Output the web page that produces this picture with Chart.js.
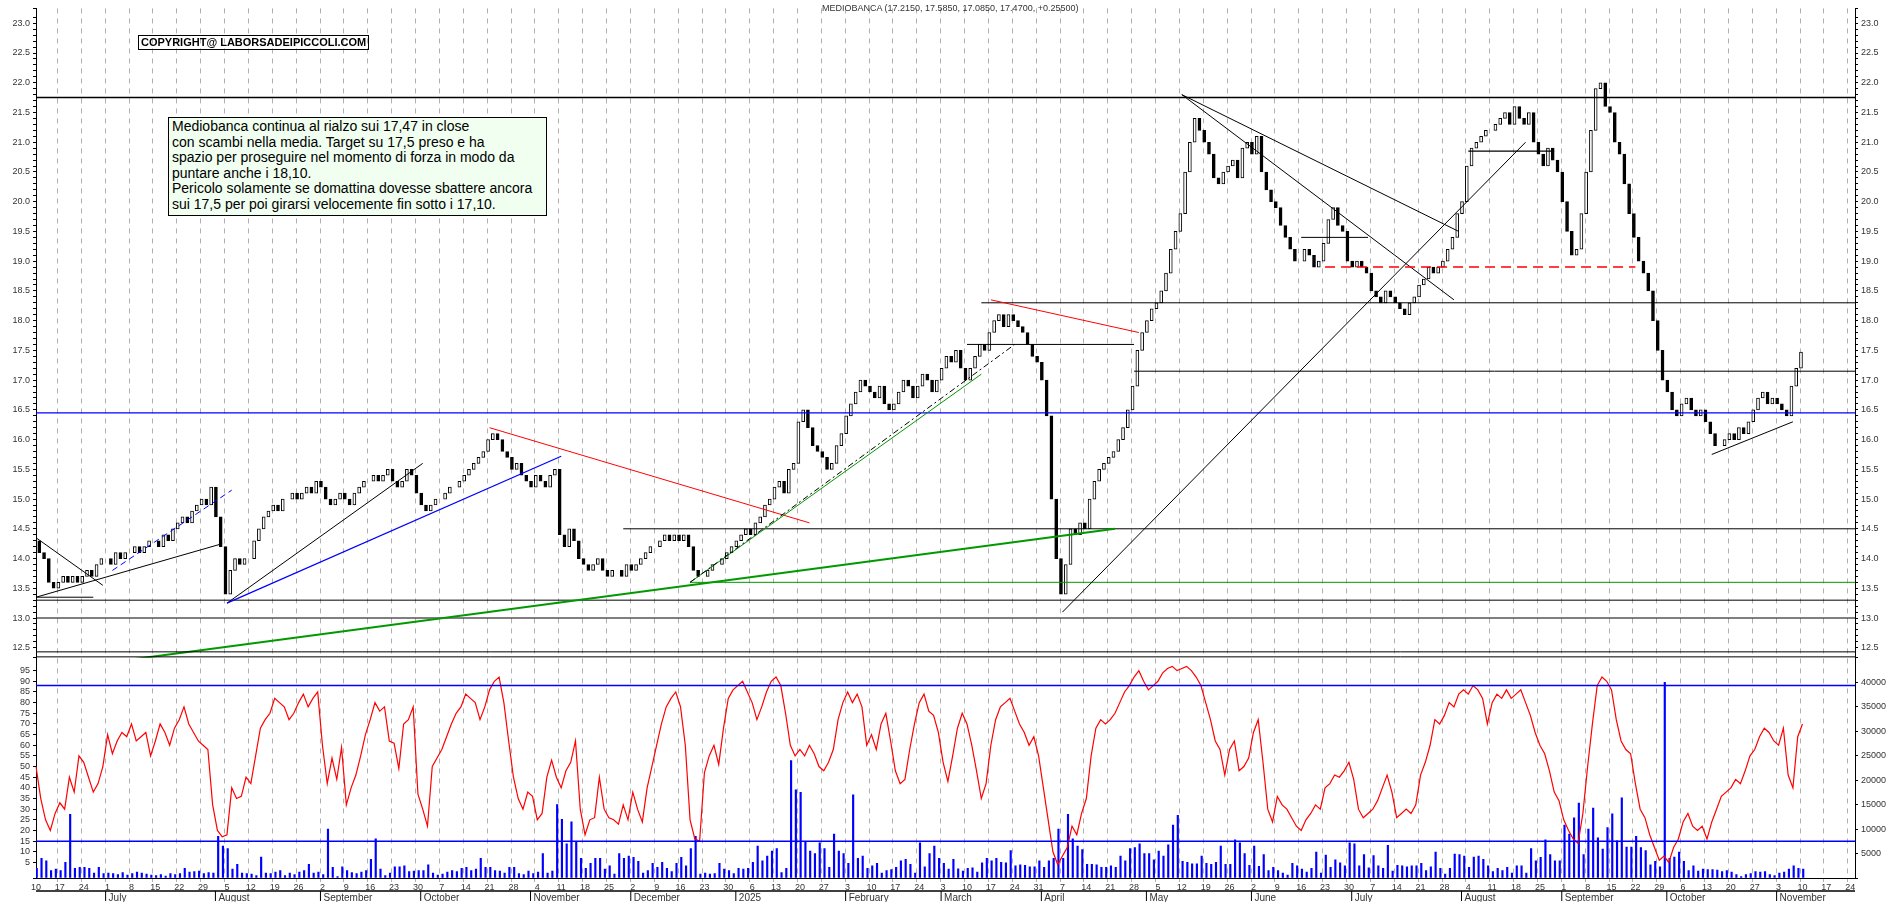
<!DOCTYPE html>
<html>
<head>
<meta charset="utf-8">
<script src="https://cdn.jsdelivr.net/npm/chart.js@4.4.1/dist/chart.umd.min.js"></script>
<style>
body { margin:0; background:#fff; overflow:hidden; }
#wrap { position:relative; width:1890px; height:902px; }
.txt { position:absolute; font-family:"Liberation Sans Narrow","Liberation Sans",Arial,sans-serif; color:#000; }
#title { left:822px; top:3px; font-size:9px; color:#333; }
#copy { left:138px; top:35px; font-size:11px; font-weight:bold; border:1.5px solid #000; padding:0 2px; line-height:13px; }
#note { left:168px; top:117px; width:370px; font-size:14px; line-height:15.5px; background:#f0fff0; border:1px solid #000; padding:1px 4px 3px 3px; }
</style>
</head>
<body>
<div id="wrap">
<canvas id="mycanvas" width="1890" height="902"></canvas>
<div class="txt" id="title">MEDIOBANCA (17.2150, 17.5850, 17.0850, 17.4700, +0.25500)</div>
<div class="txt" id="copy">COPYRIGHT@ LABORSADEIPICCOLI.COM</div>
<div class="txt" id="note">Mediobanca continua al rialzo sui 17,47 in close<br>con scambi nella media. Target su 17,5 preso e ha<br>spazio per proseguire nel momento di forza in modo da<br>puntare anche i 18,10.<br>Pericolo solamente se domattina dovesse sbattere ancora<br>sui 17,5 per poi girarsi velocemente fin sotto i 17,10.</div>
</div>
<script>
// daily closes, one line per week, from 10 Jun 2024
var closes = [
14.3,14.1,14.0,13.6,13.5, 13.6,13.7,13.6,13.7,13.6, 13.7,13.8,13.7,13.9,14.0,
14.0,13.9,14.1,14.0,14.1, 14.1,14.2,14.1,14.2,14.3, 14.3,14.2,14.4,14.3,14.5,
14.6,14.7,14.6,14.8,14.9, 15.0,14.9,15.2,14.7,14.2, 13.4,13.8,14.0,13.9,14.0,
14.0,14.3,14.5,14.7,14.8, 14.9,14.8,15.0,15.0,15.1, 15.0,15.1,15.2,15.1,15.3,
15.2,15.0,14.9,15.0,15.1, 15.0,14.9,15.1,15.2,15.3, 15.3,15.4,15.3,15.4,15.5,
15.3,15.2,15.3,15.5,15.4, 15.1,14.9,14.8,14.9,15.0, 15.0,15.1,15.2,15.2,15.3,
15.4,15.5,15.6,15.7,15.8, 16.0,16.1,16.0,15.8,15.7, 15.5,15.6,15.4,15.3,15.2,
15.4,15.3,15.2,15.4,15.5, 14.4,14.2,14.5,14.3,14.0, 13.9,13.8,13.9,14.0,13.8,
13.7,13.8,13.8,13.7,13.9, 13.8,13.9,14.0,14.1,14.2, 14.2,14.3,14.4,14.3,14.4,
14.3,14.4,14.2,13.8,13.7, 13.7,13.8,13.9,13.9,14.0, 14.1,14.2,14.3,14.4,14.5,
14.4,14.6,14.7,14.9,15.0, 15.2,15.3,15.1,15.5,15.6, 16.3,16.5,16.2,15.9,15.8,
15.7,15.5,15.6,15.9,16.1, 16.4,16.6,16.8,17.0,16.9, 16.8,16.7,16.9,16.6,16.5,
16.6,16.8,17.0,16.9,16.7, 16.9,17.1,17.0,16.8,17.0, 17.2,17.4,17.3,17.5,17.2,
17.0,17.2,17.4,17.6,17.5, 17.8,18.0,18.1,17.9,18.1, 18.0,17.9,17.8,17.6,17.4,
17.3,17.0,16.4,15.0,14.0, 13.4,13.9,14.5,14.4,14.6, 14.5,15.0,15.3,15.5,15.6,
15.7,15.8,16.0,16.2,16.5, 16.9,17.5,17.8,18.0,18.2, 18.3,18.5,18.8,19.2,19.5,
19.8,20.5,21.0,21.4,21.2, 21.0,20.8,20.4,20.3,20.5, 20.6,20.7,20.4,20.9,21.0,
20.8,21.1,20.5,20.2,20.0, 19.9,19.6,19.4,19.2,19.0, 19.0,19.2,19.1,18.9,19.0,
19.3,19.7,19.9,19.6,19.5, 19.0,18.9,19.0,18.9,18.8, 18.5,18.4,18.3,18.5,18.4,
18.3,18.2,18.1,18.3,18.4, 18.6,18.7,18.9,18.8,18.9, 19.0,19.2,19.4,19.8,20.0,
20.6,20.9,21.0,21.1,21.2, 21.2,21.3,21.4,21.5,21.3, 21.6,21.4,21.3,21.5,21.0,
20.8,20.6,20.9,20.7,20.5, 20.0,19.5,19.1,19.2,19.8, 20.5,21.2,21.9,22.0,21.6,
21.5,21.0,20.8,20.3,19.8, 19.4,19.0,18.8,18.5,18.0, 17.5,17.0,16.8,16.5,16.4,
16.6,16.7,16.5,16.4,16.5, 16.3,16.1,15.9,15.9,16.0, 16.1,16.0,16.2,16.1,16.3,
16.5,16.7,16.8,16.6,16.7, 16.6,16.5,16.4,16.9,17.2, 17.47
];
var firstOpen = 14.4;

var oscillator = [
50,35,25,20,28, 33,30,45,38,55, 52,45,38,42,50,
65,56,62,66,64, 70,62,64,66,55, 62,70,66,60,68,
72,78,70,66,62, 60,58,32,20,17, 18,40,35,36,45,
42,55,68,72,75, 82,80,78,72,75, 80,84,78,82,85,
60,42,54,44,59, 32,40,46,55,65, 72,80,76,78,62,
61,49,70,72,78, 37,30,22,50,54, 58,64,70,75,78,
84,82,80,72,78, 86,90,92,80,62, 45,35,30,38,36,
25,28,45,53,45, 40,48,52,62,30, 18,25,26,45,30,
26,25,23,32,25, 38,30,24,40,50, 60,70,78,82,85,
78,60,25,16,15, 47,55,60,51,68, 82,86,88,90,85,
80,72,78,85,90, 92,88,75,60,55, 58,55,60,56,50,
48,52,58,72,80, 85,80,84,78,60, 65,58,70,75,62,
48,42,44,58,70, 80,84,76,74,66, 52,43,55,68,75,
70,60,48,35,42, 60,72,78,80,82, 76,70,66,60,64,
55,40,25,10,4, 8,12,22,18,28, 35,55,68,72,70,
72,75,80,85,88, 92,95,90,86,88, 90,94,96,97,95,
96,97,95,92,88, 80,72,62,58,46, 58,62,48,50,54,
66,72,52,30,24, 36,32,30,26,22, 20,25,28,32,30,
40,42,46,45,48, 52,44,30,26,28, 30,34,40,46,38,
26,28,30,28,32, 46,52,60,72,70, 74,80,78,84,86,
84,88,86,82,70, 80,84,82,86,82, 84,86,80,74,66,
60,56,48,38,34, 25,20,16,14,28, 50,70,88,92,90,
86,72,62,58,56, 42,30,26,18,12, 6,8,5,12,16,
24,28,22,20,22, 16,24,30,36,38, 40,44,42,48,55,
58,64,68,66,62, 60,68,46,40,64, 70
];

var volumes = [
2000,4000,3500,1500,1800, 1500,3200,13000,2000,2200, 2200,2000,1000,2200,900,
1000,900,700,1100,600, 900,1200,1000,800,600, 500,700,400,900,700,
900,2000,1200,1300,1400, 900,1100,1000,8500,6500, 6000,1800,2800,1000,900,
800,500,4300,1000,900, 1200,1500,500,1000,700, 1200,1500,2800,1000,1200,
700,10000,2200,300,2300, 1500,1100,900,1200,1500, 3800,8000,1800,500,1000,
2300,2300,2500,1300,1400, 1500,1500,2700,1000,600, 800,1200,1500,1300,2000,
2200,1500,1800,4000,2200, 2200,1500,1400,1000,2200, 2200,900,700,1400,900,
1200,5000,1000,1400,15000, 12000,7000,11500,7500,4000, 2000,3000,4000,4000,1800,
2500,800,5000,4000,4500, 4200,3400,1000,1500,3000, 2200,3200,2000,1300,3000,
4200,2500,6000,8500,800, 1000,800,900,3000,1800, 1500,900,2000,1800,2000,
3200,6500,3500,4500,5500, 6000,1100,2000,24000,18000, 17500,7500,5500,5000,7200,
6000,2200,9000,5500,5000, 3000,17000,4000,4500,2000, 2500,3000,1000,1500,1700,
2200,3500,3800,2800,1000, 7200,2300,5000,6500,4000, 3000,1800,3800,1900,1400,
2000,2100,1200,3100,4000, 3500,4000,3200,3100,5600, 2500,2700,2600,2300,2300,
3500,2200,3500,4000,10000, 4000,13000,8000,6500,5800, 2800,2800,2700,2200,2200,
2500,2200,4500,3500,6000, 6200,7000,5000,5000,3700, 5500,4500,6800,10800,12800,
3400,3200,2900,2900,4500, 3000,2800,3200,6500,2800, 2800,7800,7200,5000,2600,
6500,2400,4800,1500,2200, 1500,1000,600,3000,2500, 1800,1200,2000,5300,1000,
4700,2200,3700,3100,2500, 7200,7000,2500,4800,2100, 4600,2500,2000,6700,1400,
2600,2500,2300,2500,2500, 3000,1500,2300,5300,2000, 800,2000,4900,4800,4500,
2200,4300,4500,3800,2500, 1300,2000,1500,2200,1000, 2500,2500,1000,6000,3500,
4200,7800,4800,3500,3500, 10800,9000,12300,15300,4800, 10000,14300,8200,5900,10300,
13100,7600,16400,6300,6300, 8500,6200,5600,2700,3400, 2300,40000,4000,4300,5300,
3400,1500,2500,1400,1800, 1700,1700,1600,1300,1500, 1200,700,300,700,900,
1300,1200,1300,700,500, 1000,1200,1800,2500,2000, 1800
];

// levels and drawn lines on the price panel
var levels = [
  { from: null, price: 21.75, color: '#000', width: 1.5 },
  { from: '2025-03-13', price: 18.3, color: '#000', width: 1 },
  { from: '2025-04-28', price: 17.15, color: '#000', width: 1 },
  { from: null, price: 16.45, color: '#0000ff', width: 1.2 },
  { from: '2024-11-28', price: 14.5, color: '#000', width: 1 },
  { from: '2024-12-18', price: 13.6, color: '#009900', width: 1 },
  { from: null, price: 13.3, color: '#000', width: 1 },
  { from: null, price: 13.0, color: '#000', width: 1.2 }
];
var trendLines = [
  ['2024-06-10', 14.35, '2024-06-28', 13.55, '#000', 1, []],
  ['2024-06-10', 13.35, '2024-06-26', 13.35, '#000', 1, []],
  ['2024-06-10', 13.35, '2024-08-02', 14.25, '#000', 1, []],
  ['2024-07-02', 13.8, '2024-08-06', 15.15, '#0000ff', 1, [6, 4]],
  ['2024-08-05', 13.25, '2024-10-01', 15.6, '#000', 1, []],
  ['2024-08-05', 13.25, '2024-11-11', 15.72, '#0000ff', 1.2, []],
  ['2024-10-21', 16.2, '2025-01-22', 14.6, '#ff0000', 1, []],
  ['2024-07-01', 12.25, '2025-04-22', 14.5, '#009900', 2, []],
  ['2024-12-18', 13.6, '2025-03-13', 17.1, '#009900', 1, []],
  ['2024-12-18', 13.6, '2025-03-24', 17.6, '#000', 1, [6, 3, 2, 3]],
  ['2025-03-17', 18.35, '2025-04-29', 17.8, '#ff0000', 1, []],
  ['2025-03-10', 17.6, '2025-04-28', 17.6, '#000', 1, []],
  ['2025-04-07', 13.1, '2025-08-20', 21.0, '#000', 1, []],
  ['2025-05-12', 21.8, '2025-07-30', 18.35, '#000', 1, []],
  ['2025-05-12', 21.8, '2025-07-31', 19.5, '#000', 1, []],
  ['2025-06-16', 19.4, '2025-07-04', 19.4, '#000', 1, []],
  ['2025-06-23', 18.9, '2025-09-22', 18.9, '#ff0000', 1.5, [10, 6]],
  ['2025-08-04', 20.85, '2025-08-28', 20.85, '#000', 1.2, []],
  ['2025-10-14', 15.75, '2025-11-06', 16.3, '#000', 1, []]
];
var oscLevels = [88, 15];
var monthNames = ['January','February','March','April','May','June','July','August','September','October','November','December'];

// trading-day labels
var labels = [];
var d = new Date(Date.UTC(2024, 5, 10));
var end = new Date(Date.UTC(2025, 10, 25));
while (d <= end) {
  var wd = d.getUTCDay();
  if (wd != 0 && wd != 6) labels.push(d.toISOString().slice(0, 10));
  d.setUTCDate(d.getUTCDate() + 1);
}
function dayOf(s) { return new Date(s + 'T00:00:00Z'); }
function idx(s) { return labels.indexOf(s); }

var candles = [], candleFill = [];
for (var i = 0; i < closes.length; i++) {
  var o = i == 0 ? firstOpen : closes[i - 1];
  candles.push([o, closes[i]]);
  candleFill.push(closes[i] >= o ? '#ffffff' : '#000000');
}

var overlay = {
  id: 'overlay',
  afterDatasetsDraw: function(chart) {
    var c = chart.ctx, x = chart.scales.x, y = chart.scales.price, osc = chart.scales.osc;
    var left = chart.chartArea.left, right = chart.chartArea.right;
    c.save();
    c.beginPath();
    c.rect(left, y.top, right - left, y.bottom - y.top);
    c.clip();
    levels.forEach(function(l) {
      var py = y.getPixelForValue(l.price);
      c.strokeStyle = l.color; c.lineWidth = l.width; c.setLineDash([]);
      c.beginPath();
      c.moveTo(l.from ? x.getPixelForValue(idx(l.from)) : left, py);
      c.lineTo(right, py); c.stroke();
    });
    trendLines.forEach(function(t) {
      c.strokeStyle = t[4]; c.lineWidth = t[5]; c.setLineDash(t[6]);
      c.beginPath();
      c.moveTo(x.getPixelForValue(idx(t[0])), y.getPixelForValue(t[1]));
      c.lineTo(x.getPixelForValue(idx(t[2])), y.getPixelForValue(t[3]));
      c.stroke();
    });
    c.restore();
    c.save();
    c.setLineDash([]);
    // panel separator
    c.strokeStyle = '#000'; c.lineWidth = 1;
    [y.bottom - 6, y.bottom - 1].forEach(function(py) {
      c.beginPath(); c.moveTo(left, py); c.lineTo(right, py); c.stroke();
    });
    c.strokeStyle = '#0000ff'; c.lineWidth = 1.5;
    oscLevels.forEach(function(v) {
      var py = osc.getPixelForValue(v);
      c.beginPath(); c.moveTo(left, py); c.lineTo(right, py); c.stroke();
    });
    // month row
    var by = chart.chartArea.bottom + 13;
    c.strokeStyle = '#000'; c.lineWidth = 1.5;
    c.beginPath(); c.moveTo(left, by); c.lineTo(right, by); c.stroke();
    c.font = '10px "Liberation Sans", Arial'; c.fillStyle = '#333'; c.textBaseline = 'top';
    c.lineWidth = 1;
    for (var i = 1; i < labels.length; i++) {
      var a = dayOf(labels[i - 1]), b = dayOf(labels[i]);
      if (a.getUTCMonth() != b.getUTCMonth()) {
        var px = x.getPixelForValue(i) - 2;
        c.beginPath(); c.moveTo(px, by); c.lineTo(px, by + 10); c.stroke();
        var name = b.getUTCMonth() == 0 ? String(b.getUTCFullYear()) : monthNames[b.getUTCMonth()];
        c.fillText(name, px + 3, by + 2);
      }
    }
    c.restore();
  }
};

var tickFont = { family: '"Liberation Sans", Arial', size: 9 };
function fixWidth(w) { return function(s) { s.width = w; }; }
function priceLabel(v) { var r = Math.round(v * 10); return r % 5 == 0 ? (r / 10).toFixed(1) : ''; }

new Chart(document.getElementById('mycanvas'), {
  type: 'bar',
  data: {
    labels: labels,
    datasets: [
      { type: 'bar', data: candles, yAxisID: 'price', backgroundColor: candleFill,
        borderColor: '#000', borderWidth: 1, borderSkipped: false, barThickness: 3, order: 2 },
      { type: 'line', data: oscillator, yAxisID: 'osc', borderColor: '#ff0000',
        borderWidth: 1.2, pointRadius: 0, tension: 0, order: 1 },
      { type: 'bar', data: volumes, yAxisID: 'vol', backgroundColor: '#0000ff',
        barThickness: 1.5, order: 3 }
    ]
  },
  options: {
    responsive: false, animation: false, devicePixelRatio: 1,
    layout: { padding: 0 },
    plugins: { legend: { display: false }, tooltip: { enabled: false } },
    scales: {
      x: {
        offset: false,
        grid: {
          color: function(ctx) { var t = ctx.tick; return t && dayOf(labels[t.value]).getUTCDay() == 1 ? '#b0b0b0' : 'transparent'; },
          tickLength: 4
        },
        border: { dash: [5, 5], color: '#000' },
        ticks: {
          autoSkip: false, maxRotation: 0, padding: 0, font: tickFont, color: '#333',
          callback: function(v) { var dt = dayOf(labels[v]); return dt.getUTCDay() == 1 ? String(dt.getUTCDate()) : ''; }
        },
        afterFit: function(s) { s.height = 24; }
      },
      osc: {
        position: 'left', stack: 'L', stackWeight: 222, min: -2.3, max: 101,
        grid: { drawOnChartArea: false, tickLength: 3, color: '#000' }, border: { color: '#000' },
        ticks: { stepSize: 5, autoSkip: false, font: tickFont, color: '#333',
          callback: function(v) { return v >= 0 && v <= 95 ? String(v) : ''; } },
        afterFit: fixWidth(36)
      },
      price: {
        position: 'left', stack: 'L', stackWeight: 655, min: 12.33, max: 23.25,
        grid: { drawOnChartArea: false, tickLength: 3, color: '#000' }, border: { color: '#000' },
        ticks: { stepSize: 0.1, autoSkip: false, font: tickFont, color: '#333', callback: priceLabel },
        afterFit: fixWidth(36)
      },
      priceR: {
        position: 'right', stack: 'R', stackWeight: 655, min: 12.33, max: 23.25,
        grid: { drawOnChartArea: false, tickLength: 3, color: '#000' }, border: { color: '#000' },
        ticks: { stepSize: 0.1, autoSkip: false, font: tickFont, color: '#333', callback: priceLabel },
        afterFit: fixWidth(35)
      },
      vol: {
        position: 'right', stack: 'R', stackWeight: 222, min: 0, max: 45000,
        grid: { drawOnChartArea: false, tickLength: 3, color: '#000' }, border: { color: '#000' },
        ticks: { stepSize: 5000, autoSkip: false, font: tickFont, color: '#333',
          callback: function(v) { return v > 0 && v < 45000 ? String(v) : ''; } },
        afterFit: fixWidth(35)
      }
    }
  },
  plugins: [overlay]
});
</script>
</body>
</html>
